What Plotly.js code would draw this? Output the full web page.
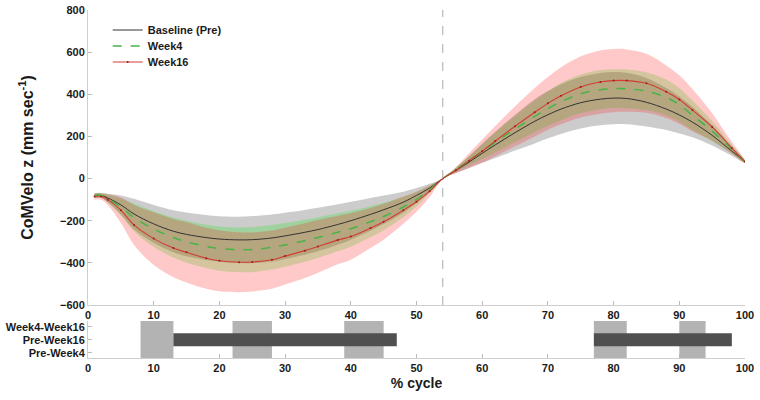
<!DOCTYPE html>
<html>
<head>
<meta charset="utf-8">
<script src="https://cdn.plot.ly/plotly-3.0.1.min.js"></script>
<style>html,body{margin:0;padding:0;background:#fff;}#chart{width:760px;height:400px;}</style>
</head>
<body>
<div id="chart"></div>
<script>
// % cycle sample points
var cycle = [1,2,3,5,7,10,13,15,18,20,23,25,28,30,33,35,38,40,43,45,48,50,52,54,56,58,60,62,65,68,70,72,75,78,80,82,85,88,90,92,95,98,100];

// mean CoM vertical velocity (mm/s)
var baselineMean = [-80,-80,-92,-125,-168,-215,-250,-265,-280,-287,-291,-290,-282,-272,-255,-242,-218,-200,-170,-148,-112,-80,-45,0,38,78,120,160,218,272,303,330,360,377,382,380,362,330,302,268,205,130,80];
var week4Mean    = [-80,-80,-95,-135,-185,-240,-280,-300,-322,-332,-338,-337,-326,-315,-295,-280,-255,-238,-205,-180,-135,-98,-52,0,42,85,128,172,235,295,332,365,402,422,427,426,415,385,350,300,225,140,80];
var week16Mean   = [-85,-85,-100,-150,-220,-285,-330,-350,-378,-390,-397,-396,-385,-368,-342,-322,-292,-275,-235,-205,-150,-110,-60,0,40,85,130,178,248,315,357,393,435,458,465,465,452,412,375,325,245,145,80];

// standard deviations (band half-widths)
var baselineSD = [12,12,20,45,72,90,100,104,107,108,110,112,112,110,106,103,96,90,78,68,50,35,20,2,12,28,45,62,85,105,112,118,122,124,124,122,115,100,88,72,48,22,5];
var week4SD    = [10,10,18,40,65,85,95,100,103,105,106,107,106,104,100,97,90,85,74,65,48,34,18,2,10,22,35,48,62,75,82,88,92,93,92,92,90,85,80,70,48,20,5];
var week16SD   = [15,15,25,60,95,125,138,143,145,145,142,140,138,135,130,125,115,110,95,85,65,48,28,2,15,35,55,72,95,115,125,135,145,150,150,148,140,125,115,100,65,28,5];

// significance bars (% cycle intervals)
var grayStart = [8, 22, 39, 77, 90];
var grayEnd   = [13, 28, 45, 82, 94];
var darkStart = [13, 77];
var darkEnd   = [47, 98];

var compLabels = ['Pre-Week4', 'Pre-Week16', 'Week4-Week16'];
var midCycle = 54;

function band(mean, sd, color) {
  var up = mean.map(function(m, i){ return m + sd[i]; });
  var lo = mean.map(function(m, i){ return m - sd[i]; });
  return {
    x: cycle.concat(cycle.slice().reverse()),
    y: up.concat(lo.slice().reverse()),
    type: 'scatter', mode: 'lines', fill: 'toself', fillcolor: color,
    line: {width: 0, shape: 'spline', smoothing: 1},
    hoverinfo: 'skip', showlegend: false, xaxis: 'x', yaxis: 'y'
  };
}

var fontFam = '"Liberation Sans", Arial, sans-serif';
var legFont = {family: fontFam, size: 11, color: '#1a1a1a', weight: 'bold'};

var traces = [
  band(baselineMean, baselineSD, 'rgba(128,128,128,0.40)'),
  band(week4Mean, week4SD, 'rgba(0,230,0,0.22)'),
  band(week16Mean, week16SD, 'rgba(255,30,30,0.24)'),
  {x: cycle, y: baselineMean, type: 'scatter', mode: 'lines', name: 'Baseline (Pre)', legend: 'legend',
   line: {color: '#333333', width: 1, shape: 'spline'}},
  {x: cycle, y: week4Mean, type: 'scatter', mode: 'lines', name: 'Week4', legend: 'legend2',
   line: {color: '#46b446', width: 1.5, dash: 'dash', shape: 'spline'}},
  {x: cycle, y: week16Mean, type: 'scatter', mode: 'lines+markers', name: 'Week16', legend: 'legend3',
   line: {color: '#d23c32', width: 1.1, shape: 'spline'},
   marker: {color: '#a01e14', size: 2}},
  {x: [null], y: [null], type: 'scatter', mode: 'markers', xaxis: 'x2', yaxis: 'y2',
   showlegend: false, hoverinfo: 'skip'}
];

var shapes = [];
shapes.push({type: 'line', xref: 'x', yref: 'y domain', x0: midCycle, x1: midCycle, y0: 0, y1: 1,
  line: {color: '#aaaaaa', width: 1, dash: 'dash'}});
for (var i = 0; i < grayStart.length; i++) {
  shapes.push({type: 'rect', xref: 'x2', yref: 'y2 domain', x0: grayStart[i], x1: grayEnd[i], y0: 0, y1: 1,
    fillcolor: '#b3b3b3', line: {width: 0}, layer: 'above'});
}
for (var j = 0; j < darkStart.length; j++) {
  shapes.push({type: 'rect', xref: 'x2', yref: 'y2', x0: darkStart[j], x1: darkEnd[j], y0: 1.5, y1: 2.5,
    fillcolor: '#505050', line: {width: 0}, layer: 'above'});
}

var tickFont = {family: fontFam, size: 11, color: '#1a1a1a', weight: 'bold'};
function leg(y) {
  return {x: 0.03, y: y, xanchor: 'left', yanchor: 'middle', bgcolor: 'rgba(0,0,0,0)', font: legFont};
}

var layout = {
  width: 760, height: 400,
  margin: {l: 88, r: 15, t: 10, b: 42},
  paper_bgcolor: '#ffffff', plot_bgcolor: '#ffffff',
  font: {family: fontFam},
  showlegend: true,
  legend: leg(0.9425),
  legend2: leg(0.8966),
  legend3: leg(0.8506),
  xaxis: {domain: [0, 1], range: [0, 100], dtick: 10, anchor: 'y',
    showgrid: false, zeroline: false, showline: true, linecolor: '#cfcfcf', linewidth: 1,
    ticks: 'inside', ticklen: 4, tickcolor: '#bbbbbb', tickfont: tickFont},
  yaxis: {domain: [0.1523, 1], range: [-600, 800], dtick: 200, anchor: 'x',
    showgrid: false, zeroline: false, showline: true, linecolor: '#cfcfcf', linewidth: 1,
    ticks: 'inside', ticklen: 4, tickcolor: '#bbbbbb', tickfont: tickFont,
    title: {text: 'CoMVelo z (mm sec<sup>-1</sup>)', font: {family: fontFam, size: 16, color: '#1a1a1a', weight: 'bold'}, standoff: 22}},
  xaxis2: {domain: [0, 1], range: [0, 100], dtick: 10, anchor: 'y2',
    showgrid: false, zeroline: false, showline: true, linecolor: '#cfcfcf', linewidth: 1,
    ticks: 'inside', ticklen: 4, tickcolor: '#bbbbbb', tickfont: tickFont,
    title: {text: '% cycle', font: {family: fontFam, size: 14, color: '#1a1a1a', weight: 'bold'}, standoff: 4}},
  yaxis2: {domain: [0, 0.1063], range: [0.6, 3.45], anchor: 'x2',
    tickvals: [1, 2, 3], ticktext: compLabels,
    showgrid: false, zeroline: false, showline: true, linecolor: '#cfcfcf', linewidth: 1,
    ticks: 'inside', ticklen: 4, tickcolor: '#bbbbbb', tickfont: tickFont},
  shapes: shapes
};

Plotly.newPlot('chart', traces, layout, {displayModeBar: false, staticPlot: true});
</script>
</body>
</html>
